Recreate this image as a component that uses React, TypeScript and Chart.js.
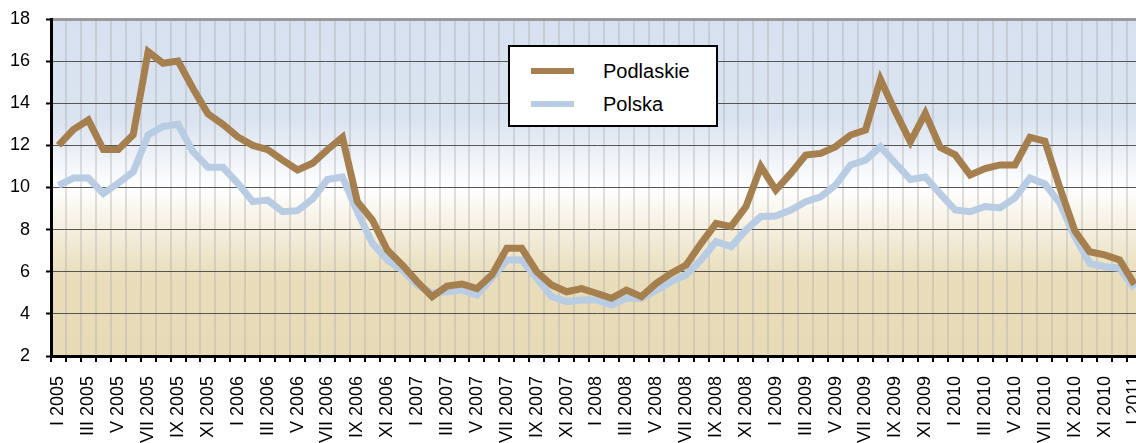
import React, { useEffect, useRef } from 'react';
import { Chart, registerables } from 'chart.js';

Chart.register(...registerables);

const ROMAN_MONTHS = ['I', 'II', 'III', 'IV', 'V', 'VI', 'VII', 'VIII', 'IX', 'X', 'XI', 'XII'];
const YEARS = [2005, 2006, 2007, 2008, 2009, 2010, 2011];

const categories: string[] = [];
for (const y of YEARS) {
  for (let m = 0; m < 12; m++) {
    if (y === 2011 && m > 0) break;
    categories.push(`${ROMAN_MONTHS[m]} ${y}`);
  }
}

const podlaskie = [
  12.0, 12.75, 13.2, 11.8, 11.8, 12.5, 16.45, 15.9, 16.0, 14.7, 13.5, 13.0,
  12.4, 12.0, 11.8, 11.3, 10.83, 11.15, 11.8, 12.38, 9.33, 8.46, 7.03, 6.32,
  5.53, 4.82, 5.32, 5.42, 5.2, 5.85, 7.11, 7.11, 6.0, 5.37, 5.05, 5.2,
  4.98, 4.74, 5.13, 4.82, 5.45, 5.93, 6.32, 7.35, 8.3, 8.14, 9.09, 10.99,
  9.88, 10.67, 11.54, 11.62, 11.94, 12.49, 12.73, 15.13, 13.6, 12.17, 13.52, 11.9,
  11.55, 10.6, 10.9, 11.07, 11.07, 12.38, 12.2, 10.0, 7.95, 6.95, 6.8, 6.56,
  5.4,
];

const polska = [
  10.1, 10.45, 10.45, 9.72, 10.2, 10.75, 12.5, 12.9, 13.0, 11.7, 10.96, 10.96,
  10.2, 9.33, 9.4, 8.85, 8.9, 9.45, 10.38, 10.5, 8.85, 7.35, 6.56, 6.08,
  5.37, 4.98, 5.05, 5.13, 4.9, 5.7, 6.56, 6.56, 5.69, 4.82, 4.58, 4.66,
  4.66, 4.42, 4.74, 4.74, 5.13, 5.53, 5.85, 6.56, 7.43, 7.19, 7.98, 8.62,
  8.65, 8.93, 9.33, 9.56, 10.12, 11.07, 11.3, 11.94, 11.15, 10.38, 10.5, 9.7,
  8.93, 8.85, 9.1, 9.03, 9.5, 10.45, 10.17, 9.26, 7.67, 6.4, 6.24, 6.17,
  5.2,
];

const SERIES_NAMES = ['Podlaskie', 'Polska'];
const SERIES_COLORS = ['#a67f4e', '#b8cce4'];

const Y_MIN = 2;
const Y_MAX = 18;
const Y_STEP = 2;

const FONT = "'Liberation Sans', Arial, sans-serif";
const CANVAS_W = 1142;
const CANVAS_H = 470;
const AREA_BOTTOM = 356;
const AREA_LEFT = 51;

const bgPlugin = {
  id: 'plotBg',
  beforeDraw(chart: any) {
    const { ctx, chartArea: a } = chart;
    if (!a) return;
    const g = ctx.createLinearGradient(0, a.top, 0, a.bottom);
    g.addColorStop(0, '#d8e1ef');
    g.addColorStop(0.3, '#dae3f0');
    g.addColorStop(0.5, '#ffffff');
    g.addColorStop(0.76, '#e9ddbb');
    g.addColorStop(1, '#e7dab6');
    ctx.save();
    ctx.fillStyle = g;
    ctx.fillRect(a.left, a.top, a.right - a.left, a.bottom - a.top);
    ctx.restore();
  },
};

export default function App() {
  const ref = useRef<HTMLCanvasElement | null>(null);

  useEffect(() => {
    if (!ref.current) return;
    const chart = new Chart(ref.current, {
      type: 'line',
      data: {
        labels: categories,
        datasets: [
          {
            label: SERIES_NAMES[0],
            data: podlaskie,
            borderColor: SERIES_COLORS[0],
            borderWidth: 7,
            pointRadius: 0,
            tension: 0,
            borderJoinStyle: 'miter',
          },
          {
            label: SERIES_NAMES[1],
            data: polska,
            borderColor: SERIES_COLORS[1],
            borderWidth: 7,
            pointRadius: 0,
            tension: 0,
            borderJoinStyle: 'miter',
          },
        ],
      },
      options: {
        responsive: false,
        animation: false,
        devicePixelRatio: 1,
        layout: { padding: { top: 19, right: 0, left: 0, bottom: 0 } },
        plugins: { legend: { display: false }, tooltip: { enabled: false } },
        scales: {
          x: {
            type: 'category',
            offset: true,
            grid: {
              offset: true,
              color: 'rgba(175,175,175,0.4)',
              lineWidth: 2,
              tickColor: '#000',
              tickLength: 6,
              tickWidth: 2,
            },
            border: { color: '#000', width: 3 },
            ticks: {
              autoSkip: false,
              minRotation: 90,
              maxRotation: 90,
              padding: 14,
              color: '#000',
              font: { family: FONT, size: 18 },
              callback: (_v: any, i: number) => (i % 2 === 0 ? categories[i] : ''),
            },
            afterFit: (s: any) => {
              s.height = CANVAS_H - AREA_BOTTOM;
              s.paddingRight = 0;
              s.paddingLeft = 0;
            },
          },
          y: {
            min: Y_MIN,
            max: Y_MAX,
            grid: {
              color: (c: any) => (c.tick && c.tick.value === Y_MAX ? '#9a9a9a' : '#555555'),
              lineWidth: (c: any) => (c.tick && c.tick.value === Y_MAX ? 3 : 1),
              tickColor: '#000',
              tickLength: 5,
              tickWidth: 2,
            },
            border: { color: '#000', width: 3 },
            ticks: {
              stepSize: Y_STEP,
              padding: 16,
              color: '#000',
              font: { family: FONT, size: 18 },
            },
            afterFit: (s: any) => {
              s.width = AREA_LEFT;
              s.paddingTop = 0;
              s.paddingBottom = 0;
            },
          },
        },
      },
      plugins: [bgPlugin],
    });
    return () => chart.destroy();
  }, []);

  const legendText: React.CSSProperties = {
    position: 'absolute',
    left: 93,
    fontFamily: FONT,
    fontSize: 20,
    lineHeight: '20px',
    color: '#000',
  };
  const sample = (top: number, color: string): React.CSSProperties => ({
    position: 'absolute',
    left: 21,
    top,
    width: 43,
    height: 6,
    background: color,
  });

  return (
    <div
      style={{
        position: 'fixed',
        left: 0,
        top: 0,
        width: 1136,
        height: 443,
        overflow: 'hidden',
        background: '#fff',
      }}
    >
      <canvas
        ref={ref}
        width={CANVAS_W}
        height={CANVAS_H}
        style={{ display: 'block', width: CANVAS_W, height: CANVAS_H }}
      />
      <div
        style={{
          position: 'absolute',
          left: 508,
          top: 45,
          width: 206,
          height: 78,
          border: '2px solid #000',
          background: '#fff',
        }}
      >
        <div style={sample(21, SERIES_COLORS[0])} />
        <div style={{ ...legendText, top: 14 }}>{SERIES_NAMES[0]}</div>
        <div style={sample(54, SERIES_COLORS[1])} />
        <div style={{ ...legendText, top: 47 }}>{SERIES_NAMES[1]}</div>
      </div>
    </div>
  );
}
